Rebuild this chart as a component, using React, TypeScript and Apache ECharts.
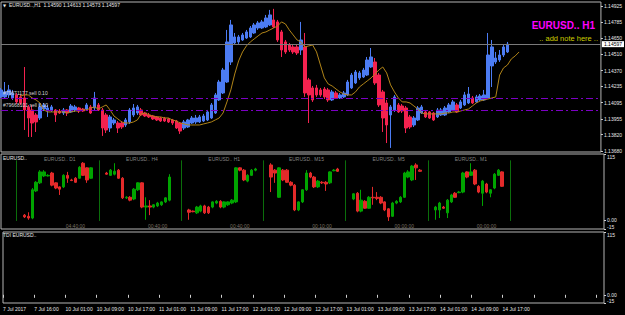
import React, { useEffect, useRef } from 'react';
import * as echarts from 'echarts';

// ---------- data ----------
const timeLabels = ['7 Jul 2017', '7 Jul 16:00', '10 Jul 01:00', '10 Jul 09:00', '10 Jul 17:00', '11 Jul 01:00', '11 Jul 09:00', '11 Jul 17:00', '12 Jul 01:00', '12 Jul 09:00', '12 Jul 17:00', '13 Jul 01:00', '13 Jul 09:00', '13 Jul 17:00', '14 Jul 01:00', '14 Jul 09:00', '14 Jul 17:00'];

const opens = [1.14144, 1.14144, 1.14161, 1.14135, 1.14161, 1.14144, 1.14135, 1.14058, 1.14032, 1.13989,
  1.13963, 1.14040, 1.14032, 1.14032, 1.14032, 1.14023, 1.14006, 1.14032, 1.14015, 1.14032,
  1.14049, 1.14040, 1.14040, 1.14058, 1.14049, 1.14075, 1.14032, 1.13989, 1.13877, 1.13920,
  1.13920, 1.13920, 1.13903, 1.13929, 1.13989, 1.14006, 1.14032, 1.14006, 1.13989, 1.13980,
  1.13972, 1.13963, 1.13960, 1.13955, 1.13946, 1.13937, 1.13920, 1.13877, 1.13886, 1.13920,
  1.13929, 1.13929, 1.13937, 1.13946, 1.13963, 1.14006, 1.14118, 1.14178, 1.14272, 1.14444,
  1.14607, 1.14616, 1.14633, 1.14650, 1.14659, 1.14693, 1.14736, 1.14736, 1.14745, 1.14762,
  1.14805, 1.14788, 1.14702, 1.14616, 1.14590, 1.14573, 1.14573, 1.14547, 1.14573, 1.14290,
  1.14221, 1.14221, 1.14204, 1.14212, 1.14204, 1.14118, 1.14178, 1.14135, 1.14144, 1.14161,
  1.14221, 1.14264, 1.14307, 1.14315, 1.14332, 1.14401, 1.14444, 1.14332, 1.14187, 1.14092,
  1.13989, 1.14032, 1.14075, 1.14066, 1.14049, 1.13972, 1.13903, 1.13946, 1.14006, 1.14015,
  1.14015, 1.14006, 1.13972, 1.13989, 1.13989, 1.14015, 1.14032, 1.14075, 1.14049, 1.14075,
  1.14092, 1.14135, 1.14101, 1.14118, 1.14118, 1.14135, 1.14410, 1.14444, 1.14461, 1.14504,
  1.14530];
const highs = [1.14221, 1.14272, 1.14247, 1.14204, 1.14178, 1.14161, 1.14401, 1.14075, 1.14075, 1.14006,
  1.14083, 1.14092, 1.14075, 1.14075, 1.14040, 1.14040, 1.14049, 1.14040, 1.14083, 1.14075,
  1.14058, 1.14049, 1.14092, 1.14075, 1.14187, 1.14092, 1.14049, 1.14006, 1.13989, 1.13963,
  1.13937, 1.13937, 1.13963, 1.14049, 1.14083, 1.14075, 1.14049, 1.14015, 1.14006, 1.13989,
  1.13980, 1.13972, 1.13972, 1.13963, 1.13955, 1.13946, 1.13929, 1.13946, 1.13955, 1.13980,
  1.13989, 1.13989, 1.13998, 1.14032, 1.14092, 1.14178, 1.14290, 1.14393, 1.14719, 1.14805,
  1.14693, 1.14676, 1.14693, 1.14719, 1.14753, 1.14779, 1.14796, 1.14805, 1.14848, 1.14891,
  1.14900, 1.14805, 1.14719, 1.14633, 1.14607, 1.14590, 1.14590, 1.14788, 1.14693, 1.14307,
  1.14238, 1.14247, 1.14221, 1.14229, 1.14221, 1.14204, 1.14195, 1.14178, 1.14195, 1.14290,
  1.14350, 1.14375, 1.14367, 1.14393, 1.14487, 1.14564, 1.14478, 1.14350, 1.14204, 1.14118,
  1.14075, 1.14161, 1.14092, 1.14083, 1.14066, 1.13989, 1.13980, 1.14066, 1.14075, 1.14032,
  1.14023, 1.14015, 1.14049, 1.14049, 1.14066, 1.14092, 1.14118, 1.14092, 1.14118, 1.14187,
  1.14229, 1.14152, 1.14161, 1.14169, 1.14204, 1.14693, 1.14633, 1.14530, 1.14547, 1.14590,
  1.14616];
const lows = [1.14135, 1.14135, 1.14135, 1.14118, 1.14083, 1.14075, 1.13860, 1.13800, 1.13800, 1.13843,
  1.13946, 1.14023, 1.13972, 1.14015, 1.13929, 1.13998, 1.13989, 1.13980, 1.14006, 1.14015,
  1.14006, 1.14015, 1.14032, 1.13998, 1.14032, 1.14023, 1.13809, 1.13834, 1.13843, 1.13903,
  1.13834, 1.13869, 1.13886, 1.13912, 1.13972, 1.13989, 1.13980, 1.13972, 1.13963, 1.13946,
  1.13937, 1.13929, 1.13929, 1.13920, 1.13903, 1.13869, 1.13826, 1.13860, 1.13877, 1.13912,
  1.13912, 1.13920, 1.13929, 1.13937, 1.13955, 1.13998, 1.14109, 1.14169, 1.14264, 1.14418,
  1.14590, 1.14599, 1.14625, 1.14642, 1.14650, 1.14685, 1.14719, 1.14728, 1.14736, 1.14753,
  1.14736, 1.14616, 1.14487, 1.14513, 1.14530, 1.14513, 1.14504, 1.14504, 1.14144, 1.13920,
  1.14101, 1.14144, 1.14144, 1.14126, 1.14101, 1.14109, 1.14126, 1.14126, 1.14135, 1.14152,
  1.14212, 1.14255, 1.14290, 1.14307, 1.14324, 1.14393, 1.14247, 1.14058, 1.13843, 1.13748,
  1.13706, 1.14015, 1.14006, 1.14006, 1.13834, 1.13869, 1.13886, 1.13937, 1.13998, 1.13963,
  1.13955, 1.13937, 1.13963, 1.13980, 1.13980, 1.14006, 1.14023, 1.14006, 1.14040, 1.14066,
  1.14083, 1.14083, 1.14092, 1.14109, 1.14109, 1.14126, 1.14229, 1.14427, 1.14444, 1.14487,
  1.14521];
const closes = [1.14204, 1.14187, 1.14204, 1.14178, 1.14101, 1.14092, 1.14032, 1.13963, 1.13920, 1.13929,
  1.14058, 1.14075, 1.14049, 1.14058, 1.13989, 1.14006, 1.14032, 1.14006, 1.14066, 1.14058,
  1.14023, 1.14023, 1.14075, 1.14006, 1.14135, 1.14032, 1.13877, 1.13860, 1.13972, 1.13946,
  1.13877, 1.13886, 1.13946, 1.14032, 1.14049, 1.14058, 1.13989, 1.13980, 1.13972, 1.13955,
  1.13946, 1.13937, 1.13937, 1.13929, 1.13920, 1.13877, 1.13851, 1.13929, 1.13946, 1.13963,
  1.13963, 1.13972, 1.13980, 1.14015, 1.14075, 1.14161, 1.14272, 1.14375, 1.14616, 1.14762,
  1.14659, 1.14659, 1.14676, 1.14702, 1.14736, 1.14762, 1.14779, 1.14788, 1.14822, 1.14848,
  1.14745, 1.14633, 1.14547, 1.14530, 1.14547, 1.14530, 1.14521, 1.14633, 1.14178, 1.14161,
  1.14118, 1.14161, 1.14161, 1.14144, 1.14118, 1.14187, 1.14135, 1.14161, 1.14178, 1.14272,
  1.14332, 1.14358, 1.14350, 1.14375, 1.14461, 1.14487, 1.14264, 1.14075, 1.13963, 1.13903,
  1.14058, 1.14144, 1.14015, 1.14023, 1.13877, 1.13886, 1.13963, 1.14049, 1.14058, 1.13972,
  1.13963, 1.13946, 1.14032, 1.14032, 1.14049, 1.14075, 1.14101, 1.14015, 1.14101, 1.14161,
  1.14169, 1.14092, 1.14144, 1.14152, 1.14161, 1.14504, 1.14573, 1.14478, 1.14504, 1.14573,
  1.14597];

const maValues = [null, null, null, null, null,
  1.14152, 1.14161, 1.14161, 1.14135, 1.14118, 1.14092, 1.14032, 1.14015, 1.14015, 1.14015,
  1.14015, 1.14015, 1.14006, 1.14015, 1.14023, 1.14023, 1.14032, 1.14032, 1.14049, 1.14058,
  1.14040, 1.14058, 1.14075, 1.14032, 1.13980, 1.13955, 1.13929, 1.13920, 1.13920, 1.13929,
  1.13946, 1.13998, 1.14006, 1.13989, 1.13980, 1.13972, 1.13972, 1.13963, 1.13963, 1.13946,
  1.13937, 1.13920, 1.13912, 1.13903, 1.13903, 1.13903, 1.13903, 1.13912, 1.13920, 1.13929,
  1.13946, 1.13963, 1.14006, 1.14101, 1.14204, 1.14341, 1.14453, 1.14530, 1.14582, 1.14616,
  1.14642, 1.14668, 1.14693, 1.14702, 1.14719, 1.14736, 1.14753, 1.14788, 1.14771, 1.14719,
  1.14676, 1.14633, 1.14616, 1.14573, 1.14582, 1.14590, 1.14530, 1.14418, 1.14307, 1.14255,
  1.14238, 1.14212, 1.14187, 1.14169, 1.14161, 1.14161, 1.14187, 1.14229, 1.14255, 1.14281,
  1.14307, 1.14341, 1.14375, 1.14401, 1.14350, 1.14247, 1.14187, 1.14135, 1.14101, 1.14101,
  1.14092, 1.14066, 1.14040, 1.14006, 1.13998, 1.13998, 1.13998, 1.13998, 1.13998, 1.14006,
  1.14006, 1.14015, 1.14015, 1.14023, 1.14032, 1.14040, 1.14066, 1.14092, 1.14109, 1.14118,
  1.14126, 1.14135, 1.14144, 1.14332, 1.14393, 1.14418, 1.14470, 1.14496, 1.14530];

const mainTicks = [1.13680, 1.13820, 1.13955, 1.14095, 1.14235, 1.14370, 1.14510, 1.14650, 1.14785, 1.14925];
const lastPrice = 1.14597;
const orderLevels = [1.14135, 1.14032];
const orderNames = ['#79671177 sell 0.10', '#79668101 sell 0.10'];
const headerText = 'EURUSD..,H1  1.14590 1.14613 1.14573 1.14597';

// sub-window (multi timeframe candles)
const subTicks = [-15, 0, 115];
const subSeparators = [4, 25, 46, 67, 88, 109, 130];
const subTitles = ['EURUSD.. D1', 'EURUSD.. H4', 'EURUSD.. H1', 'EURUSD.. M15', 'EURUSD.. M5', 'EURUSD.. M1'];
const subTimers = ['04:40:00', '00:40:00', '00:40:00', '00:10:00', '00:00:00', '00:00:00'];
const subIdx = [6, 7, 8, 9, 10, 11, 12, 13, 14, 15, 16, 17, 18, 19, 20, 21, 22, 23,
  27, 28, 29, 30, 31, 32, 33, 34, 35, 36, 37, 38, 39, 40, 41, 42, 43,
  48, 49, 50, 51, 52, 53, 54, 55, 56, 57, 58, 59, 60, 61, 62, 63, 64, 65,
  69, 70, 71, 72, 73, 74, 75, 76, 77, 78, 79, 80, 81, 82, 83, 84, 85, 86,
  90, 91, 92, 93, 94, 95, 96, 97, 98, 99, 100, 101, 102, 103, 104, 105, 106, 107,
  111, 112, 113, 114, 115, 116, 117, 118, 119, 120, 121, 122, 123, 124, 125, 126, 127, 128];
const subOpen = [9, 7, 4, 51, 65, 77, 77, 82, 65, 58, 58, 78, 70, 73, 73, 99, 91, 73,
  82, 78, 80, 87, 73, 39, 40, 37, 53, 65, 23, 25, 23, 25, 27, 32, 35,
  18, 16, 13, 16, 25, 23, 23, 30, 33, 23, 27, 30, 32, 91, 87, 68, 78, 87,
  96, 87, 40, 87, 87, 66, 61, 18, 32, 53, 82, 75, 58, 66, 66, 65, 86, 89,
  37, 47, 16, 33, 21, 40, 40, 40, 32, 20, 7, 30, 32, 40, 75, 70, 96, 87,
  18, 18, 23, 13, 32, 47, 48, 49, 84, 78, 87, 59, 47, 63, 47, 56, 78, 84];
const subClose = [6, 4, 53, 66, 84, 84, 78, 61, 56, 54, 78, 73, 69, 66, 92, 78, 70, 91,
  80, 87, 85, 73, 39, 40, 35, 54, 65, 23, 25, 23, 27, 30, 32, 39, 75,
  14, 15, 23, 25, 13, 13, 32, 33, 23, 32, 32, 35, 91, 87, 70, 78, 87, 89,
  75, 82, 91, 70, 66, 61, 18, 32, 53, 82, 75, 58, 68, 65, 63, 84, 87, 85,
  46, 16, 35, 21, 40, 39, 38, 30, 18, 6, 30, 33, 40, 82, 84, 94, 91, 85,
  23, 30, 21, 35, 44, 40, 49, 82, 75, 84, 63, 49, 68, 49, 53, 80, 87, 59];
const subLow = [4, 1, 2, 49, 63, 75, 76, 59, 54, 44, 56, 65, 68, 65, 72, 77, 65, 72,
  79, 77, 78, 72, 37, 37, 33, 35, 51, 21, 1, 9, 21, 23, 25, 30, 33,
  1, 14, 11, 14, 11, 11, 21, 28, 21, 21, 25, 28, 30, 85, 68, 66, 77, 85,
  49, 65, 39, 68, 65, 59, 16, 16, 30, 51, 73, 56, 56, 63, 51, 63, 85, 84,
  35, 14, 14, 20, 20, 27, 35, 28, 16, -1, 6, 28, 30, 39, 73, 68, 70, 84,
  1, 4, 20, 4, 30, 39, 47, 47, 73, 77, 61, 47, 25, 47, 40, 54, 77, 58];
const subHigh = [11, 14, 56, 68, 87, 87, 80, 84, 66, 59, 80, 84, 72, 75, 94, 101, 92, 92,
  84, 89, 99, 89, 75, 42, 42, 56, 66, 66, 40, 35, 28, 32, 33, 40, 80,
  20, 17, 25, 27, 27, 25, 33, 35, 35, 33, 33, 37, 92, 92, 89, 80, 89, 91,
  99, 89, 92, 89, 89, 68, 63, 33, 54, 87, 84, 77, 70, 68, 68, 85, 89, 91,
  47, 49, 53, 35, 42, 58, 49, 42, 33, 21, 32, 35, 42, 84, 87, 96, 99, 89,
  25, 32, 25, 37, 46, 49, 51, 84, 85, 99, 89, 61, 70, 65, 54, 82, 89, 85];

// ---------- styling ----------
const FONT = 'Liberation Sans, Arial, sans-serif';
const N_SLOTS = 155;
const BULL = '#4c7cf3';
const BEAR = '#f4224f';
const GREEN = '#00a400';
const RED = '#e42a2a';
const FRAME = '#b4b4b4';
const AXIS_TXT = '#e6e6e6';

const cats = Array.from({ length: N_SLOTS }, (_, i) => String(i));

function xAxisFor(gridIndex: number, showLabels: boolean) {
  return {
    type: 'category',
    gridIndex,
    data: cats,
    boundaryGap: false,
    axisLine: { show: false },
    splitLine: { show: false },
    axisTick: showLabels
      ? { show: true, interval: 7, length: 3, lineStyle: { color: '#d0d0d0' } }
      : { show: false },
    axisLabel: showLabels
      ? {
          show: true,
          interval: 7,
          align: 'left',
          margin: 3,
          fontSize: 5,
          fontFamily: FONT,
          color: AXIS_TXT,
          formatter: (v: string) => timeLabels[Number(v) / 8] ?? '',
        }
      : { show: false },
  };
}

function yAxisFor(gridIndex: number, min: number, max: number, ticks: number[], fmt: (v: number) => string, edgeAlign: boolean) {
  return {
    type: 'value',
    gridIndex,
    position: 'right',
    min,
    max,
    axisLine: { show: false },
    splitLine: { show: false },
    axisTick: { show: true, customValues: ticks, length: 2, lineStyle: { color: '#d0d0d0' } },
    axisLabel: {
      show: true,
      customValues: ticks,
      formatter: fmt,
      fontSize: 5,
      fontFamily: FONT,
      color: AXIS_TXT,
      margin: 3,
      ...(edgeAlign ? { verticalAlignMinLabel: 'bottom', verticalAlignMaxLabel: 'top' } : {}),
    },
  };
}

const subFmt = (v: number) => (v === 0 ? '0.00' : String(v));

function buildOption() {
  const mainData = opens.map((o, i) => [o, closes[i], lows[i], highs[i]]);
  const subData = subIdx.map((x, k) => [x, subOpen[k], subClose[k], subLow[k], subHigh[k]]);
  const groups = subSeparators.slice(0, subTitles.length);
  const labelData = [
    ...groups.map((s, k) => ({ value: [s + 11, 106], name: subTitles[k], label: { color: '#a6a6a6' } })),
    ...groups.map((s, k) => ({ value: [s + 15, -10], name: subTimers[k], label: { color: '#9c907e' } })),
  ];

  const gridBase = { left: 1, right: 21, show: true, borderColor: FRAME, borderWidth: 1, backgroundColor: '#000' };

  return {
    animation: false,
    backgroundColor: '#000',
    grid: [
      { ...gridBase, top: 2, height: 150 },
      { ...gridBase, top: 154, height: 75 },
      { ...gridBase, top: 232, height: 71 },
    ],
    xAxis: [xAxisFor(0, false), xAxisFor(1, false), xAxisFor(2, true)],
    yAxis: [
      yAxisFor(0, 1.13671, 1.14959, mainTicks, (v: number) => v.toFixed(5), false),
      yAxisFor(1, -15, 115, subTicks, subFmt, true),
      yAxisFor(2, -15, 115, subTicks, subFmt, true),
    ],
    series: [
      {
        type: 'candlestick',
        name: 'EURUSD H1',
        xAxisIndex: 0,
        yAxisIndex: 0,
        data: mainData,
        barWidth: 3,
        itemStyle: { color: BULL, color0: BEAR, borderColor: BULL, borderColor0: BEAR, borderWidth: 1 },
        z: 2,
      },
      {
        type: 'line',
        name: 'MA',
        xAxisIndex: 0,
        yAxisIndex: 0,
        data: maValues,
        symbol: 'none',
        lineStyle: { color: '#b08418', width: 1 },
        z: 3,
        markLine: {
          silent: true,
          symbol: ['none', 'none'],
          precision: 5,
          data: [
            {
              yAxis: lastPrice,
              lineStyle: { color: '#7a7a7a', type: 'solid', width: 1 },
              label: {
                show: true,
                position: 'end',
                distance: 1,
                formatter: lastPrice.toFixed(5),
                backgroundColor: '#ffffff',
                color: '#000000',
                fontSize: 5,
                fontFamily: FONT,
                padding: [1, 2, 0, 2],
              },
            },
            ...orderLevels.map((lv, k) => ({
              yAxis: lv,
              lineStyle: { color: '#7c00c4', type: [7, 3, 2, 3], width: 1 },
              label: {
                show: true,
                position: 'insideStartTop',
                distance: 2,
                formatter: orderNames[k],
                color: '#d8d8d8',
                fontSize: 5,
                fontFamily: FONT,
              },
            })),
          ],
        },
      },
      {
        type: 'candlestick',
        name: 'MTF',
        xAxisIndex: 1,
        yAxisIndex: 1,
        data: subData,
        encode: { x: 0, y: [1, 2, 3, 4] },
        barWidth: 3,
        itemStyle: { color: GREEN, color0: RED, borderColor: GREEN, borderColor0: RED, borderWidth: 1 },
        markLine: {
          silent: true,
          symbol: ['none', 'none'],
          label: { show: false },
          lineStyle: { color: '#0b6e0b', type: 'solid', width: 1 },
          data: subSeparators.map((s) => [{ coord: [String(s), 104] }, { coord: [String(s), -1] }]),
        },
      },
      {
        type: 'scatter',
        name: 'labels',
        xAxisIndex: 1,
        yAxisIndex: 1,
        symbolSize: 1,
        itemStyle: { color: 'rgba(0,0,0,0)' },
        silent: true,
        data: labelData,
        label: {
          show: true,
          position: 'inside',
          formatter: (p: any) => p.name,
          fontSize: 5,
          fontFamily: FONT,
        },
      },
    ],
    graphic: [
      { type: 'text', x: 3, y: 5, style: { text: '\u25BC', fill: '#e8e8e8', fontSize: 4, fontFamily: 'DejaVu Sans', verticalAlign: 'middle' } },
      { type: 'text', x: 9, y: 5, style: { text: headerText, fill: '#e8e8e8', fontSize: 5, fontFamily: FONT, verticalAlign: 'middle' } },
      { type: 'text', x: 595, y: 25, style: { text: 'EURUSD.. H1', fill: '#ff00ff', fontSize: 10, fontWeight: 'bold', fontFamily: FONT, align: 'right', verticalAlign: 'middle' } },
      { type: 'text', x: 598, y: 38.5, style: { text: '.. add note here ..', fill: '#cccc00', fontSize: 7.5, fontFamily: FONT, align: 'right', verticalAlign: 'middle' } },
      { type: 'text', x: 3, y: 157.5, style: { text: 'EURUSD..', fill: '#e8e8e8', fontSize: 5, fontFamily: FONT, verticalAlign: 'middle' } },
      { type: 'text', x: 3, y: 234.5, style: { text: 'TDI EURUSD..', fill: '#e8e8e8', fontSize: 5, fontFamily: FONT, verticalAlign: 'middle' } },
    ],
  };
}

export default function App() {
  const ref = useRef<HTMLDivElement>(null);
  useEffect(() => {
    if (!ref.current) return;
    const chart = echarts.init(ref.current, null, { renderer: 'svg' });
    chart.setOption(buildOption() as any);
    return () => chart.dispose();
  }, []);
  return (
    <div
      ref={ref}
      style={{ position: 'fixed', left: 0, top: 0, width: 625, height: 315, background: '#000' }}
    />
  );
}
